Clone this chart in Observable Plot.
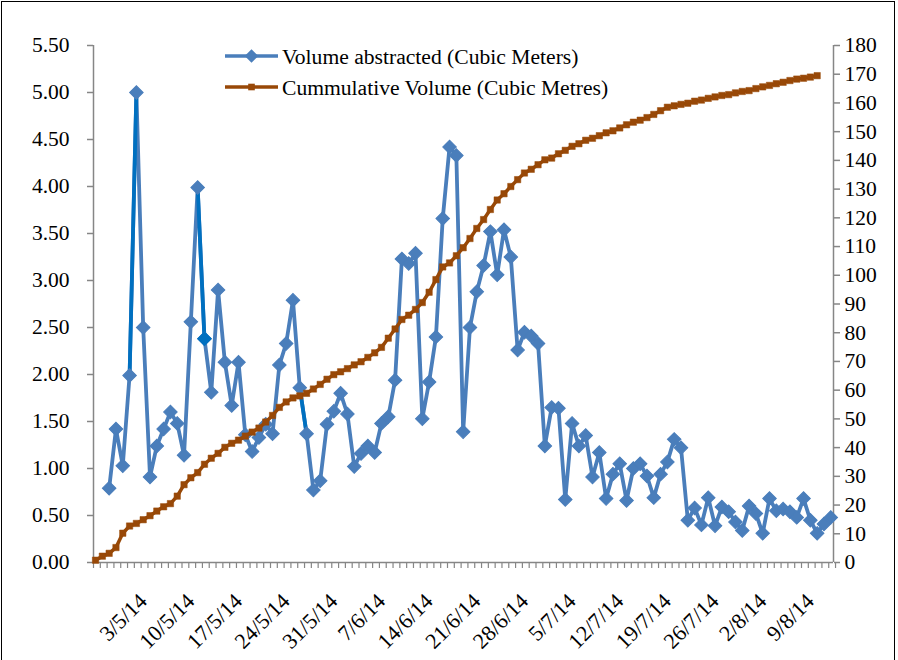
<!DOCTYPE html>
<html><head><meta charset="utf-8">
<script src="https://cdn.jsdelivr.net/npm/d3@7"></script>
<script src="https://cdn.jsdelivr.net/npm/@observablehq/plot@0.6"></script>
<style>
html,body{margin:0;padding:0;background:#fff;}
#wrap{position:relative;width:898px;height:660px;overflow:hidden;}
#frame{position:absolute;left:1px;top:1px;width:894px;height:660px;border:1px solid #000;box-sizing:border-box;pointer-events:none;}
</style></head><body><div id="wrap"><div id="frame"></div></div>
<script>
// Tick labels of the category axis (one every 7 days, first one is day 7 of the axis)
const tickLabels = ["3/5/14","10/5/14","17/5/14","24/5/14","31/5/14","7/6/14","14/6/14","21/6/14","28/6/14","5/7/14","12/7/14","19/7/14","26/7/14","2/8/14","9/8/14"];
const leftTicks = [0,0.5,1,1.5,2,2.5,3,3.5,4,4.5,5,5.5];
const rightTicks = [0,10,20,30,40,50,60,70,80,90,100,110,120,130,140,150,160,170,180];

// Volume abstracted (Cubic Meters), plotted from axis day 2 to day 108
const volume = [0.79,1.42,1.03,1.99,5.00,2.50,0.91,1.24,1.42,1.60,1.48,1.14,2.56,3.99,2.38,1.81,2.90,2.13,1.67,2.13,
1.36,1.18,1.33,1.47,1.37,2.10,2.33,2.79,1.86,1.37,0.77,0.87,1.47,1.61,1.80,1.58,1.02,1.16,1.24,1.17,
1.48,1.55,1.94,3.23,3.18,3.29,1.53,1.92,2.40,3.66,4.42,4.33,1.39,2.50,2.88,3.16,3.52,3.06,3.54,3.25,
2.26,2.45,2.41,2.33,1.24,1.65,1.64,0.67,1.48,1.24,1.35,0.91,1.17,0.68,0.94,1.05,0.66,1.00,1.05,0.92,
0.69,0.94,1.07,1.31,1.22,0.45,0.58,0.40,0.69,0.39,0.59,0.54,0.43,0.34,0.60,0.52,0.31,0.68,0.55,0.57,
0.54,0.48,0.68,0.45,0.31,0.41,0.48];
const volumeStart = 2;

// Cummulative Volume (Cubic Metres), plotted from axis day 0 to day 106
const cumulative = [0.8,2.2,3.2,5.2,10.2,12.7,13.6,14.9,16.3,17.9,19.4,20.5,23.1,27.1,29.5,31.3,34.2,36.3,38.0,40.1,
41.5,42.6,44.0,45.4,46.8,48.9,51.2,54.0,55.9,57.3,58.0,58.9,60.4,62.0,63.8,65.4,66.4,67.5,68.8,69.9,
71.4,73.0,74.9,78.1,81.3,84.6,86.1,88.1,90.5,94.1,98.5,102.9,104.3,106.8,109.6,112.8,116.3,119.4,122.9,126.2,
128.4,130.9,133.3,135.6,136.9,138.5,140.2,140.8,142.3,143.5,144.9,145.8,147.0,147.7,148.6,149.6,150.3,151.3,152.4,153.3,
154.0,154.9,156.0,157.3,158.5,159.0,159.5,159.9,160.6,161.0,161.6,162.1,162.6,162.9,163.5,164.0,164.3,165.0,165.6,166.1,
166.7,167.2,167.8,168.3,168.6,169.0,169.5];
const cumulativeStart = 0;

// segments of the volume line drawn in the darker blue in the original
const darkSegments = [[5,6],[15,16],[30,31]];
const darkPoints = [16];

const leftMax = 5.5, rightMax = 180;
const toLeft = c => c * leftMax / rightMax;

const volData = volume.map((v, i) => ({day: i + volumeStart, v}));
const cumData = cumulative.map((c, i) => ({day: i + cumulativeStart, c}));
const darkData = darkSegments.flatMap(([a, b], k) => [a, b].map(d => ({day: d, v: volume[d - volumeStart], seg: k})));
const darkDots = darkPoints.map(d => ({day: d, v: volume[d - volumeStart]}));
const dayTicks = d3.range(0, 110);
const labelDays = tickLabels.map((_, i) => 7 * (i + 1));

const BLUE = "#4A7EBB", DARK = "#0070C0", BROWN = "#984807", GRID = "#868686";
const FONT = "'Liberation Serif','Times New Roman',serif";
const xMin = -0.3, xMax = 108.4;

const chart = Plot.plot({
  width: 898, height: 660,
  marginLeft: 93, marginRight: 65, marginTop: 45, marginBottom: 98,
  x: {domain: [xMin, xMax], axis: null},
  y: {domain: [0, leftMax], axis: null},
  style: {fontFamily: FONT, fontSize: "21px", color: "#000", background: "transparent", overflow: "visible"},
  marks: [
    // axis lines
    Plot.ruleX([xMin], {stroke: GRID, strokeWidth: 1.5}),
    Plot.ruleX([xMax], {stroke: GRID, strokeWidth: 1.5}),
    Plot.ruleY([0], {stroke: GRID, strokeWidth: 1.5}),
    // left axis
    Plot.axisY(leftTicks, {anchor: "left", label: null, tickSize: 6, tickPadding: 18, stroke: GRID, strokeWidth: 1.5, fill: "#000",
      tickFormat: d => d.toFixed(2), fontSize: 21.5}),
    // right axis (secondary scale 0..180)
    Plot.axisY(rightTicks, {anchor: "right", label: null, y: d => toLeft(d), tickSize: 6, tickPadding: 5, stroke: GRID, strokeWidth: 1.5, fill: "#000",
      tickFormat: d => String(d), fontSize: 21.5, textAnchor: "start"}),
    // daily tick marks
    Plot.axisX(dayTicks, {x: d => d + xMin, label: null, tickSize: 6, stroke: GRID, strokeWidth: 1.2, tickFormat: () => ""}),
    // weekly labels
    Plot.axisX(labelDays, {x: d => d, label: null, tickSize: 0, tickPadding: 35, tickRotate: -45, fill: "#000",
      tickFormat: (d, i) => tickLabels[i], fontSize: 22}),
    // volume series
    Plot.line(volData, {x: "day", y: "v", stroke: BLUE, strokeWidth: 3.8}),
    Plot.line(darkData, {x: "day", y: "v", z: "seg", stroke: DARK, strokeWidth: 3.8}),
    Plot.dot(volData, {x: "day", y: "v", symbol: "square", rotate: 45, r: 5.4, fill: BLUE, stroke: BLUE, strokeWidth: 1}),
    Plot.dot(darkDots, {x: "day", y: "v", symbol: "square", rotate: 45, r: 5.4, fill: DARK, stroke: DARK, strokeWidth: 1}),
    // cumulative series (secondary axis)
    Plot.line(cumData, {x: "day", y: d => toLeft(d.c), stroke: BROWN, strokeWidth: 3.5}),
    Plot.dot(cumData, {x: "day", y: d => toLeft(d.c), symbol: "square", r: 3.6, fill: BROWN, stroke: BROWN, strokeWidth: 0.5})
  ]
});

// legend inside the plot area
const svg = d3.select(chart);
const legend = svg.append("g").attr("font-family", FONT).attr("font-size", 21.6).attr("text-anchor", "start");
const items = [
  {label: "Volume abstracted (Cubic Meters)", color: BLUE, y: 56, shape: "diamond"},
  {label: "Cummulative Volume (Cubic Metres)", color: BROWN, y: 87, shape: "square"}
];
for (const it of items) {
  legend.append("line").attr("x1", 225).attr("x2", 278).attr("y1", it.y).attr("y2", it.y)
    .attr("stroke", it.color).attr("stroke-width", 3.5);
  if (it.shape === "diamond") {
    legend.append("rect").attr("x", -4.8).attr("y", -4.8).attr("width", 9.6).attr("height", 9.6)
      .attr("transform", `translate(251.5,${it.y}) rotate(45)`).attr("fill", it.color);
  } else {
    legend.append("rect").attr("x", 251.5 - 3.3).attr("y", it.y - 3.3).attr("width", 6.6).attr("height", 6.6).attr("fill", it.color);
  }
  legend.append("text").attr("x", 282).attr("y", it.y).attr("dy", "0.35em").attr("fill", "#000").text(it.label);
}

document.getElementById("wrap").prepend(chart);
</script>
</body></html>
